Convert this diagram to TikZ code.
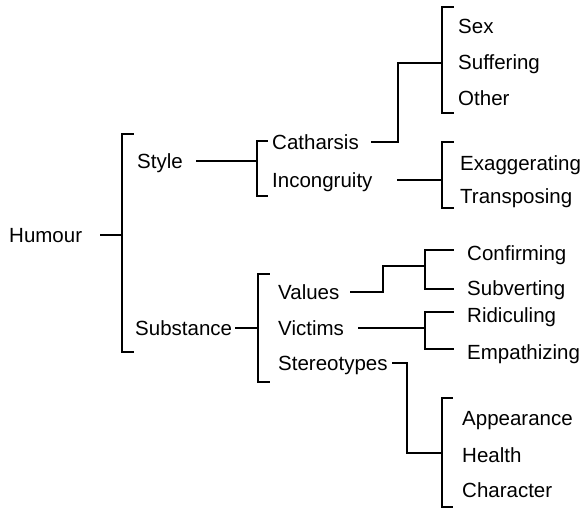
\documentclass[tikz,border=0pt]{standalone}
\usepackage{fontspec}
\setmainfont{Liberation Sans}
\tikzstyle{term}=[anchor=west, inner sep=0pt, text height=14pt, text depth=0pt, font=\fontsize{20.5}{24}\selectfont]
\tikzstyle{branch}=[line width=1.6pt, line cap=rect]
\def \tick {11}
\newcommand{\treebracket}[4]{\draw[branch] (#1+#4,#2) -- (#1,#2) -- (#1,#3) -- (#1+#4,#3);}

\begin{document}
\begin{tikzpicture}[x=1pt, y=-1pt]
\useasboundingbox (0,0) rectangle (586,511);

\node[term] (humour) at (9,235) {Humour};
\node[term] (style) at (137,161) {Style};
\node[term] (substance) at (135,328) {Substance};
\node[term] (catharsis) at (272,142) {Catharsis};
\node[term] (incongruity) at (272,180) {Incongruity};
\node[term] (values) at (278,292) {Values};
\node[term] (victims) at (278,328) {Victims};
\node[term] (stereotypes) at (278,363) {Stereotypes};

\foreach \name/\txt/\y in {sex/Sex/27, suffering/Suffering/63, other/Other/98}
    \node[term] (\name) at (458,\y) {\txt};
\foreach \name/\txt/\y in {exaggerating/Exaggerating/163, transposing/Transposing/196}
    \node[term] (\name) at (460,\y) {\txt};
\foreach \name/\txt/\y in {confirming/Confirming/253, subverting/Subverting/288, ridiculing/Ridiculing/315, empathizing/Empathizing/352}
    \node[term] (\name) at (467,\y) {\txt};
\foreach \name/\txt/\y in {appearance/Appearance/418, health/Health/455, character/Character/490}
    \node[term] (\name) at (462,\y) {\txt};

\coordinate (humourb) at (122,235);
\coordinate (styleb) at (257,161);
\coordinate (substanceb) at (258,328);
\coordinate (catharsisb) at (442,63);
\coordinate (catharsisk) at (398,63);
\coordinate (incongruityb) at (442,180);
\coordinate (valuesb) at (425,266);
\coordinate (valuesk) at (383,266);
\coordinate (victimsb) at (425,328);
\coordinate (stereotypesb) at (442,453);
\coordinate (stereotypesk) at (407,453);

\treebracket{122}{134}{352}{\tick}
\treebracket{257}{141}{196}{10}
\treebracket{258}{274}{382}{\tick}
\treebracket{442}{7}{113}{\tick}
\treebracket{442}{142}{208}{\tick}
\treebracket{425}{250}{289}{28}
\treebracket{425}{312}{349}{28}
\treebracket{442}{398}{507}{10}

\draw[branch] ([xshift=18pt]humour.east) -- (humourb);
\draw[branch] ([xshift=14pt]style.east) -- (styleb);
\draw[branch] ([xshift=4pt]substance.east) -- (substanceb);
\draw[branch] ([xshift=13pt]catharsis.east) -| (catharsisk) -- (catharsisb);
\draw[branch] ([xshift=25pt]incongruity.east) -- (incongruityb);
\draw[branch] ([xshift=11pt]values.east) -| (valuesk) -- (valuesb);
\draw[branch] ([xshift=15pt]victims.east) -- (victimsb);
\draw[branch] ([xshift=5pt]stereotypes.east) -| (stereotypesk) -- (stereotypesb);

\end{tikzpicture}
\end{document}
